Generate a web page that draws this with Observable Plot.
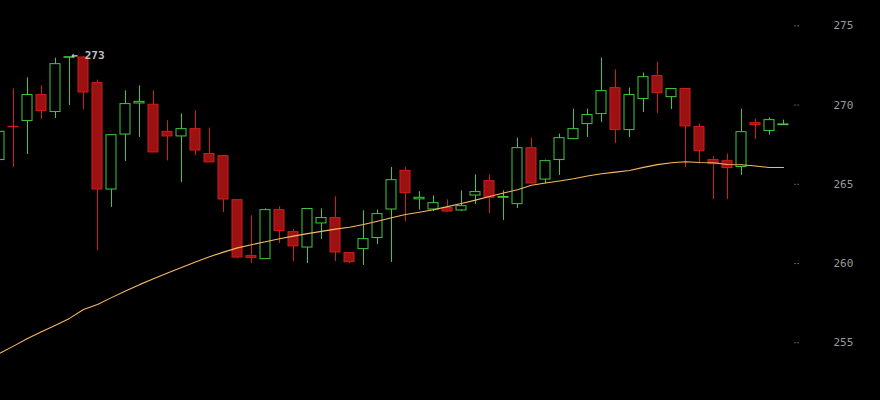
<!DOCTYPE html>
<html>
<head>
<meta charset="utf-8">
<script src="https://cdn.jsdelivr.net/npm/d3@7"></script>
<script src="https://cdn.jsdelivr.net/npm/@observablehq/plot@0.6"></script>
<style>
  html, body { margin: 0; padding: 0; background: #000; overflow: hidden; }
  #chart svg { display: block; }
</style>
</head>
<body>
<div id="chart"></div>
<script>
// Candle index (session number)
const idx = d3.range(-1, 56);
const opens = [266.53,268.63,268.99,270.63,269.56,272.98,273.00,271.38,264.67,268.14,270.10,270.02,268.31,268.02,268.48,266.91,266.78,264.00,260.47,260.28,263.37,261.98,261.01,262.53,262.87,260.66,260.91,261.61,263.41,265.85,264.05,263.41,263.50,263.35,264.29,265.20,264.15,263.75,267.28,265.30,266.53,267.85,268.80,269.43,271.07,268.42,270.38,271.83,270.50,271.01,268.61,266.53,266.46,266.09,268.86,268.36,268.73];
const highs = [268.40,271.01,271.72,271.21,272.96,273.02,273.05,271.57,268.12,270.90,271.21,270.90,269.01,269.43,269.64,268.55,266.80,264.02,263.01,263.45,263.58,262.13,263.46,263.45,264.21,260.68,263.33,263.37,266.06,266.06,264.53,264.27,264.02,264.59,265.60,265.60,264.59,267.91,267.91,266.53,268.17,269.74,269.74,272.96,272.22,271.07,272.02,272.71,271.03,271.05,268.80,266.74,266.91,269.74,269.11,269.18,269.05];
const lows = [266.40,266.06,266.88,269.09,269.15,269.97,269.70,260.80,263.54,266.44,267.95,267.00,266.48,265.11,266.80,266.38,263.22,260.30,260.00,260.26,261.27,260.13,260.00,261.52,260.13,260.00,259.88,261.20,260.07,262.65,263.37,263.28,263.27,263.28,263.73,263.16,262.72,263.47,265.03,265.03,265.56,267.84,267.95,268.90,267.57,267.95,269.53,269.47,269.72,266.06,266.27,264.04,264.04,265.56,267.83,268.10,268.72];
const closes = [268.31,268.60,270.63,269.62,272.58,273.02,270.79,264.67,268.10,270.06,270.20,267.01,268.02,268.48,267.13,266.38,264.04,260.38,260.34,263.37,262.05,261.08,263.44,262.87,260.70,260.09,261.54,263.12,265.26,264.44,264.15,263.81,263.28,263.62,264.51,264.15,264.20,267.28,265.05,266.46,267.91,268.48,269.37,270.88,268.42,270.63,271.76,270.75,271.01,268.65,267.09,266.27,266.02,268.29,268.74,269.05,268.78];
const movingAvg = [254.33,254.79,255.27,255.70,256.11,256.54,257.10,257.42,257.85,258.27,258.67,259.04,259.40,259.75,260.10,260.43,260.72,260.99,261.19,261.38,261.56,261.73,261.89,262.03,262.17,262.29,262.46,262.67,262.89,263.09,263.24,263.39,263.59,263.79,264.00,264.23,264.45,264.66,264.94,265.08,265.21,265.35,265.52,265.67,265.77,265.87,266.07,266.24,266.36,266.42,266.38,266.36,266.25,266.23,266.15,266.06,266.06];
const yTicks = [255, 260, 265, 270, 275];
const peakLabel = [{i: 4, v: 273}];

const rows = idx.map((i, j) => ({i, open: opens[j], high: highs[j], low: lows[j], close: closes[j], ma: movingAvg[j]}));
const up = d => d.close >= d.open;
const GREEN = "#40c840";
const RED_STROKE = "#d41c1c";
const RED_FILL = "#9c1111";
const HALF = 0.357;

const chart = Plot.plot({
  width: 880,
  height: 400,
  marginLeft: 0,
  marginRight: 87,
  marginTop: 0,
  marginBottom: 0,
  style: {background: "#000", color: "#9a9a9a", fontFamily: "DejaVu Sans Mono, monospace", fontSize: "11px"},
  x: {type: "linear", domain: [-1, 55], range: [-1, 783], axis: null},
  y: {domain: [255, 275], range: [342.3, 25.3]},
  marks: [
    Plot.ruleX(rows, {x: "i", y1: "low", y2: "high", stroke: d => up(d) ? GREEN : RED_STROKE, strokeWidth: 1}),
    Plot.rect(rows, {
      x1: d => d.i - HALF, x2: d => d.i + HALF,
      y1: "open", y2: "close",
      fill: d => up(d) ? "#000" : RED_FILL,
      stroke: d => up(d) ? GREEN : RED_STROKE,
      strokeWidth: 1
    }),
    Plot.line(rows, {x: "i", y: "ma", stroke: "#f6b866", strokeWidth: 1.1}),
    Plot.axisY({anchor: "right", ticks: yTicks, tickSize: 5, tickPadding: 35, stroke: "#5a5a5a", strokeDasharray: "2,1", fill: "#9a9a9a", tickFormat: d => String(d), label: null}),
    Plot.text(peakLabel, {x: "i", y: "v", text: d => "← " + d.v, textAnchor: "start", dx: 2, dy: -2, fill: "#c0c0c0", fontSize: 11, fontWeight: "bold"})
  ]
});
document.getElementById("chart").appendChild(chart);
</script>
</body>
</html>
